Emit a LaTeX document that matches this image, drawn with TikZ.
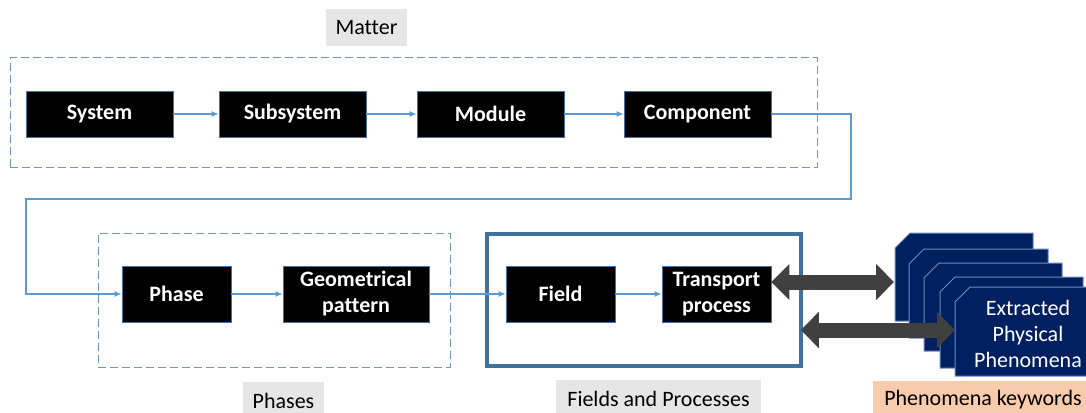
\documentclass[tikz,border=0pt]{standalone}
\usepackage{fontspec}
\setmainfont{Carlito}[Ligatures=CommonOff]
\usetikzlibrary{arrows.meta}

\definecolor{flowblue}{RGB}{91,155,213}
\definecolor{edgeblue}{RGB}{65,113,156}
\definecolor{dashblue}{RGB}{112,148,196}
\definecolor{labelgray}{RGB}{231,230,230}
\definecolor{labelpeach}{RGB}{248,203,173}
\definecolor{darkarrow}{RGB}{64,64,64}
\definecolor{navycard}{RGB}{0,32,96}
\definecolor{cardedge}{RGB}{110,140,190}

\tikzset{
  blk/.style={fill=black, draw=edgeblue, line width=0.8pt, text=white,
    font=\fontsize{22}{26}\selectfont\bfseries, align=center, inner sep=0pt},
  tag/.style={text=black, font=\fontsize{22}{26}\selectfont, inner sep=0pt,
    minimum height=37pt},
  flow/.style={draw=flowblue, line width=1.3pt, -{Latex[length=7pt,width=6pt]}},
  group/.style={draw=dashblue, line width=1pt, dash pattern=on 8pt off 4pt,
    inner sep=0pt},
  solidgroup/.style={draw=edgeblue, line width=3.5pt, inner sep=0pt},
  bigarrow/.style={draw=darkarrow, line width=15pt,
    {Triangle[length=18pt,width=35pt]}-{Triangle[length=18pt,width=35pt]}},
  card/.style={fill=navycard, draw=cardedge, line width=1pt},
  cardtext/.style={text=white, font=\fontsize{22}{26}\selectfont, align=center,
    inner sep=0pt}
}

\begin{document}
\begin{tikzpicture}[x=1pt, y=-1pt]
  \useasboundingbox (0,0) rectangle (1086,412);
  \clip (0,0) rectangle (1086,412);

  % group frames
  \node[group, minimum width=807pt, minimum height=109pt] (matter) at (413.5,112.5) {};
  \node[group, minimum width=352pt, minimum height=134pt] (phases) at (274,300) {};
  \node[solidgroup, minimum width=314pt, minimum height=132pt] (fields) at (644,300) {};

  % group captions
  \node[tag, fill=labelgray, minimum width=81pt] (mattertag) at (366.5,27.5) {Matter};
  \node[tag, fill=labelgray, minimum width=81pt] (phasestag) at (283.5,400.5) {Phases};
  \node[tag, fill=labelgray, minimum width=205pt] (fieldstag) at (658.5,398.5) {Fields and Processes};
  \node[tag, fill=labelpeach, minimum width=220pt] (phentag) at (983,399.5) {Phenomena keywords};

  % matter hierarchy
  \node[blk, minimum width=147pt, minimum height=46pt] (system) at (99.5,114) {System};
  \node[blk, minimum width=147pt, minimum height=46pt] (subsystem) at (292.5,114) {Subsystem};
  \node[blk, minimum width=147pt, minimum height=46pt] (module) at (490.5,114) {Module};
  \node[blk, minimum width=147pt, minimum height=46pt] (component) at (697.5,114) {Component};

  % phases
  \node[blk, minimum width=109pt, minimum height=56pt] (phase) at (176.5,294) {Phase};
  \node[blk, minimum width=146pt, minimum height=56pt] (geom) at (356,294) {Geometrical\\pattern};

  % fields and processes
  \node[blk, minimum width=109pt, minimum height=56pt] (field) at (560.5,294) {Field};
  \node[blk, minimum width=109pt, minimum height=56pt] (transport) at (716.5,294) {Transport\\process};

  % flow connectors
  \draw[flow] (system) -- (subsystem);
  \draw[flow] (subsystem) -- (module);
  \draw[flow] (module) -- (component);
  \coordinate (r1) at (851,114);
  \coordinate (r2) at (851,199);
  \coordinate (r3) at (26,199);
  \coordinate (r4) at (26,294);
  \draw[flow] (component.east) -- (r1) -- (r2) -- (r3) -- (r4) -- (phase.west);
  \draw[flow] (phase) -- (geom);
  \draw[flow] (geom) -- (field);
  \draw[flow] (field) -- (transport);

  % stack of phenomenon cards (back to front)
  \draw[card] (895,248) -- (910,233) -- (1033,233) -- (1033,321) -- (895,321) -- cycle;
  \draw[card] (909,264) -- (924,249) -- (1048,249) -- (1048,338) -- (909,338) -- cycle;
  \draw[card] (924,278) -- (939,263) -- (1062,263) -- (1062,351) -- (924,351) -- cycle;
  \draw[card] (940,292) -- (955,277) -- (1083,277) -- (1083,368) -- (940,368) -- cycle;

  % exchange arrows
  \coordinate (cardA) at (894,282);
  \coordinate (cardE) at (955,330);
  \draw[bigarrow] ([yshift=12pt]transport.east) -- (cardA);
  \draw[bigarrow] ([xshift=-2pt,yshift=-30pt]fields.east) -- (cardE);

  % front card
  \draw[card] (955,302) -- (970,287) -- (1100,287) -- (1100,376) -- (955,376) -- cycle;
  \node[cardtext] (extracted) at (1028,334) {Extracted\\Physical\\Phenomena};
\end{tikzpicture}
\end{document}
